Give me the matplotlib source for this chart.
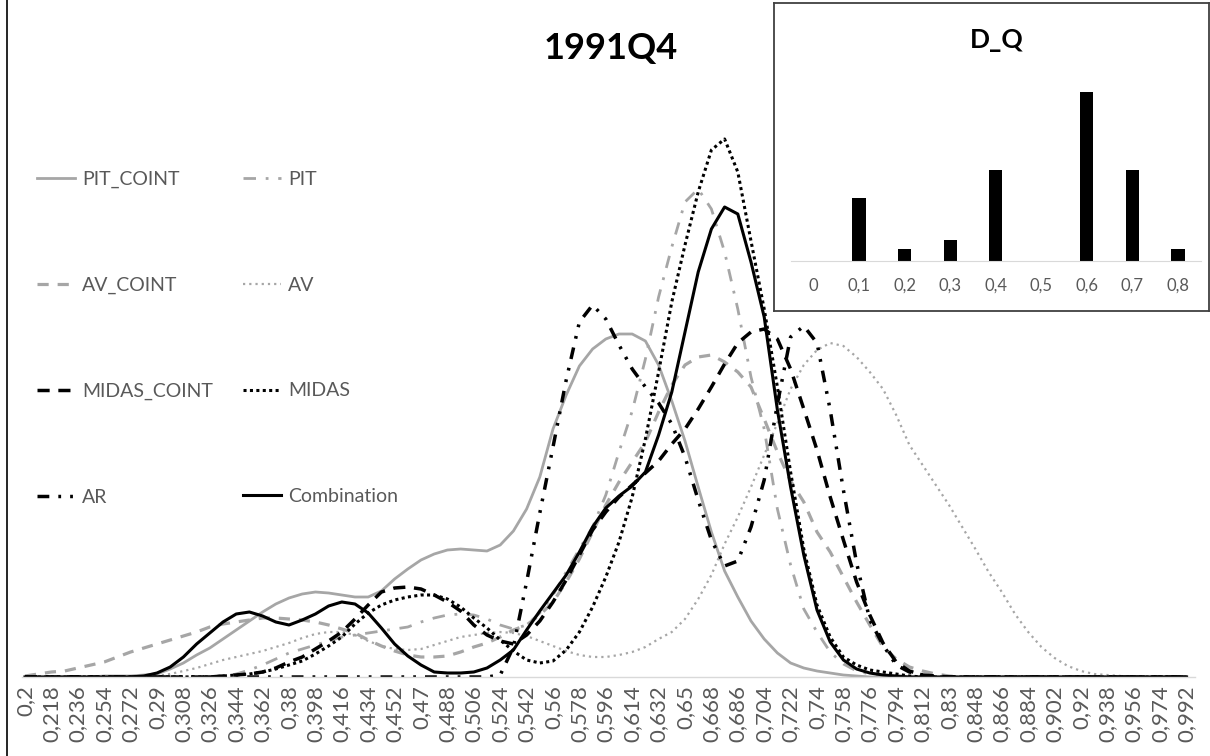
import numpy as np
import matplotlib
matplotlib.use("Agg")
import matplotlib.pyplot as plt
from matplotlib.lines import Line2D

plt.rcParams['font.family'] = ['Lato', 'DejaVu Sans']

# category axis of the density plot
x = [0.2, 0.209, 0.218, 0.227, 0.236, 0.245, 0.254, 0.263, 0.272, 0.281,
     0.29, 0.299, 0.308, 0.317, 0.326, 0.335, 0.344, 0.353, 0.362, 0.371,
     0.38, 0.389, 0.398, 0.407, 0.416, 0.425, 0.434, 0.443, 0.452, 0.461,
     0.47, 0.479, 0.488, 0.497, 0.506, 0.515, 0.524, 0.533, 0.542, 0.551,
     0.56, 0.569, 0.578, 0.587, 0.596, 0.605, 0.614, 0.623, 0.632, 0.641,
     0.65, 0.659, 0.668, 0.677, 0.686, 0.695, 0.704, 0.713, 0.722, 0.731,
     0.74, 0.749, 0.758, 0.767, 0.776, 0.785, 0.794, 0.803, 0.812, 0.821,
     0.83, 0.839, 0.848, 0.857, 0.866, 0.875, 0.884, 0.893, 0.902, 0.911,
     0.92, 0.929, 0.938, 0.947, 0.956, 0.965, 0.974, 0.983, 0.992]

# densities (relative units, no y axis shown)
pit_coint = [0, 0, 0, 0, 0, 0, 1, 1, 1, 2, 3, 8, 14, 22, 29, 38, 47, 56, 65, 73,
             79, 83, 85, 84, 82, 80, 80, 86, 98, 108, 117, 123, 127, 128, 127, 126, 132, 146, 168, 200,
             248, 282, 311, 328, 338, 343, 343, 336, 312, 276, 236, 190, 145, 106, 80, 56, 38, 24, 14, 9,
             6, 4, 2, 1] + [0] * 25
pit = [0] * 16 + [3, 7, 12, 18, 24, 28, 32, 36, 40, 42, 44, 46, 48, 50, 55, 59, 62, 63, 62, 58,
                  52, 48, 52, 64, 82, 105, 128, 150, 182, 225, 266, 318, 380, 430, 475, 488, 468, 425, 368, 300,
                  248, 168, 112, 68, 45, 25, 13, 6, 3, 1] + [0] * 23
av_coint = [1, 3, 5, 6, 9, 12, 15, 20, 25, 29, 33, 37, 41, 45, 50, 53, 55, 57, 59, 59,
            58, 57, 55, 52, 48, 44, 37, 31, 26, 22, 20, 20, 21, 25, 30, 34, 40, 47, 52, 62,
            75, 95, 118, 145, 172, 195, 215, 235, 265, 292, 312, 320, 322, 315, 305, 290, 258, 225, 196, 175,
            145, 125, 100, 75, 52, 30, 18, 10, 6, 3, 1] + [0] * 18
av = [0] * 10 + [1, 3, 6, 9, 13, 17, 20, 23, 26, 30, 34, 39, 43, 45, 45, 42, 36, 31, 28, 27,
                 28, 32, 36, 40, 42, 44, 45, 44, 41, 36, 31, 26, 22, 20, 20, 22, 25, 30, 38, 45,
                 58, 78, 102, 133, 160, 190, 222, 254, 288, 312, 327, 334, 331, 320, 305, 288, 262, 232, 212, 192,
                 172, 150, 128, 105, 85, 63, 45, 30, 19, 11, 6, 3, 2, 1] + [0] * 5
midas_coint = [0] * 15 + [1, 2, 3, 5, 9, 15, 20, 28, 36, 45, 58, 72, 85, 89, 90, 88, 82, 75, 66, 52,
                          42, 36, 33, 42, 56, 75, 97, 122, 147, 165, 180, 192, 204, 216, 233, 248, 268, 290, 313, 334,
                          345, 348, 338, 308, 268, 227, 180, 137, 95, 62, 34, 15, 6, 2, 1] + [0] * 19
midas = [0] * 15 + [1, 2, 3, 5, 8, 12, 16, 23, 31, 40, 53, 64, 72, 77, 80, 82, 82, 78, 70, 59,
                    49, 37, 26, 17, 14, 16, 27, 45, 70, 100, 135, 180, 238, 305, 375, 432, 485, 527, 538, 505,
                    436, 368, 290, 205, 128, 72, 40, 20, 12, 7, 5, 3, 1] + [0] * 21
ar = [0] * 36 + [2, 30, 95, 164, 230, 297, 355, 372, 358, 332, 308, 290, 274, 253, 220, 177, 137, 111, 116, 150,
                 197, 273, 340, 351, 334, 267, 187, 114, 57, 32, 12, 5, 2] + [0] * 20
combination = [0] * 9 + [1, 4, 10, 20, 33, 44, 55, 63, 65, 61, 55, 52, 57, 63, 71, 75, 73, 64, 49, 33,
                         21, 12, 5, 4, 4, 5, 9, 17, 27, 47, 66, 84, 102, 125, 150, 169, 181, 191, 205, 242,
                         285, 345, 405, 448, 470, 463, 415, 360, 267, 190, 122, 67, 35, 17, 8, 4, 2, 1] + [0] * 22

# inset bar chart
dq_cats = ['0', '0,1', '0,2', '0,3', '0,4', '0,5', '0,6', '0,7', '0,8']
dq_vals = [0, 0.105, 0.02, 0.035, 0.15, 0, 0.28, 0.15, 0.02]

GRAY = '#a6a6a6'
TXT = '#595959'
W, H = 1210, 756

fig = plt.figure(figsize=(12.1, 7.56), dpi=100)
ax = fig.add_axes([22 / W, 79 / H, 1173 / W, 560 / H])

series = [
    ('PIT_COINT', pit_coint, dict(color=GRAY, lw=2.0, ls='-')),
    ('PIT', pit, dict(color=GRAY, lw=2.0, ls=(0, (4.5, 3.5, 1, 3.5)))),
    ('AV_COINT', av_coint, dict(color=GRAY, lw=2.3, ls=(0, (3.5, 2.8)))),
    ('AV', av, dict(color=GRAY, lw=1.6, ls=(0, (1, 1.8)))),
    ('MIDAS_COINT', midas_coint, dict(color='black', lw=2.5, ls=(0, (3.5, 2.5)))),
    ('MIDAS', midas, dict(color='black', lw=2.2, ls=(0, (1, 1.1)))),
    ('AR', ar, dict(color='black', lw=2.5, ls=(0, (3.4, 2.6, 0.8, 2.6, 0.8, 2.6)))),
    ('Combination', combination, dict(color='black', lw=2.2, ls='-')),
]
handles = {}
for name, vals, st in series:
    line, = ax.plot(x, vals, color=st['color'], lw=st['lw'], linestyle=st['ls'], label=name,
                    solid_joinstyle='round', dash_joinstyle='round')
    handles[name] = line

ax.set_xlim(0.19795, 0.99773)
ax.set_ylim(0, 560)
ticks = np.arange(45) * 0.018 + 0.2
labels = [('%.3f' % t).rstrip('0').rstrip('.').replace('.', ',') for t in ticks]
ax.set_xticks(ticks)
ax.set_xticklabels(labels, rotation=90, fontsize=16, color=TXT)
ax.tick_params(axis='x', length=0, pad=6)
ax.set_yticks([])
for s in ['top', 'left', 'right']:
    ax.spines[s].set_visible(False)
ax.spines['bottom'].set_color('#d9d9d9')
ax.spines['bottom'].set_linewidth(1.0)

leg_kw = dict(loc='upper left', bbox_transform=fig.transFigure, frameon=False, borderpad=0,
              borderaxespad=0, labelspacing=4.56, handlelength=1.95, handletextpad=0.36,
              prop=dict(size=14), labelcolor=TXT)
leg1 = ax.legend(handles=[handles[n] for n in ['PIT_COINT', 'AV_COINT', 'MIDAS_COINT', 'AR']],
                 bbox_to_anchor=(37 / W, 1 - 171 / H), **leg_kw)
ax.add_artist(leg1)
ax.legend(handles=[handles[n] for n in ['PIT', 'AV', 'MIDAS', 'Combination']],
          bbox_to_anchor=(243 / W, 1 - 171 / H), **leg_kw)

fig.text(611 / W, 1 - 48 / H, '1991Q4', fontsize=26, fontweight='bold', ha='center', va='center')

# inset frame and bars
frame = fig.add_axes([774 / W, (H - 310.7) / H, 435 / W, 308 / H], zorder=5)
frame.set_facecolor('white')
frame.set_xticks([])
frame.set_yticks([])
for s in frame.spines.values():
    s.set_color('#404040')
    s.set_linewidth(1.3)

bx = fig.add_axes([790.7 / W, (H - 261) / H, 410 / W, 200 / H], zorder=6)
bx.set_facecolor('none')
bx.bar(range(len(dq_cats)), dq_vals, width=0.29, color='black')
bx.set_xlim(-0.5, len(dq_cats) - 0.5)
bx.set_ylim(0, 0.28 * 200 / 169.3)
bx.set_xticks(range(len(dq_cats)))
bx.set_xticklabels(dq_cats, fontsize=12, color=TXT)
bx.tick_params(axis='x', length=0, pad=12)
bx.set_yticks([])
for s in ['top', 'left', 'right']:
    bx.spines[s].set_visible(False)
bx.spines['bottom'].set_color('#d9d9d9')
fig.text(996.7 / W, 1 - 40 / H, 'D_Q', fontsize=19, fontweight='bold', ha='center', va='center', zorder=10)

fig.add_artist(Line2D([7 / W, 7 / W], [0, 1], color='black', lw=1.2))

fig.savefig('out.png', dpi=100)
